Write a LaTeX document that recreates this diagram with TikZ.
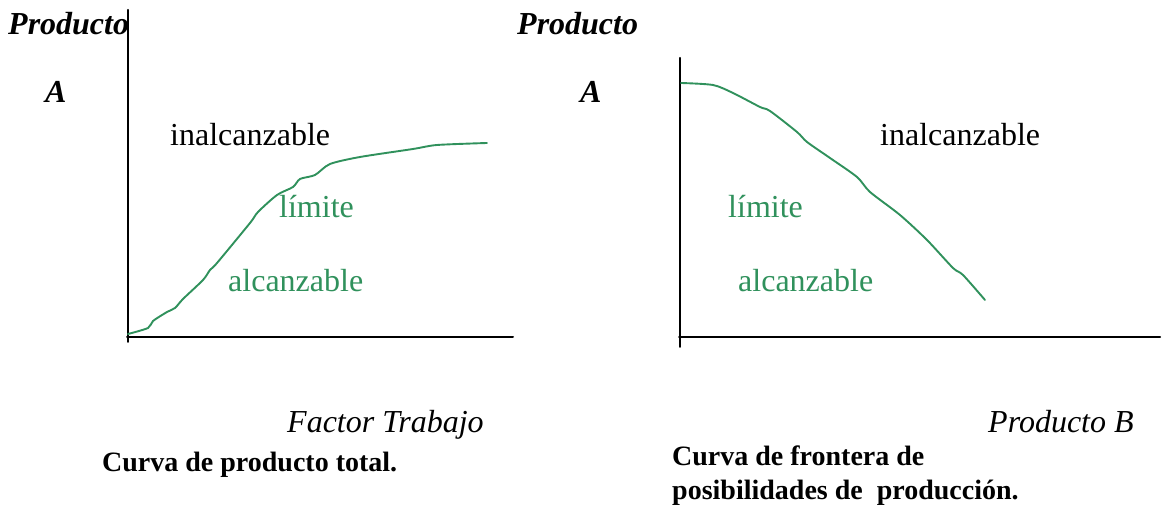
\documentclass[tikz,border=0pt]{standalone}
\usepackage{fontspec}
\setmainfont{Liberation Serif}
\usepackage{xcolor}
\usepackage{tkz-euclide}
\usetikzlibrary{calc}

\definecolor{curvegreen}{RGB}{48,145,92}
\tikzset{
  plain/.style={font=\fontsize{32}{34}\selectfont, anchor=base west, inner sep=0pt},
  zone/.style={plain, text=curvegreen},
  axislbl/.style={plain, font=\fontsize{32}{34}\selectfont\itshape},
  axisname/.style={plain, font=\fontsize{32}{34}\selectfont\bfseries\itshape},
  caption/.style={plain, font=\fontsize{28}{34}\selectfont\bfseries},
  curve/.style={curvegreen, line width=1.9pt, line cap=round, line join=round}
}

\begin{document}
\begin{tikzpicture}[x=1pt,y=1pt]
    \useasboundingbox (0,0) rectangle (1162,513);
    % axes of the total product curve
    \tkzDefPoint(128,503){Y_1}
    \tkzDefPoint(128,171){F_1}
    \tkzDefPoint(127,176){O_1}
    \tkzDefPoint(513,176){X_1}
    % axes of the frontier
    \tkzDefPoint(680,455){Y_2}
    \tkzDefPoint(680,166){F_2}
    \tkzDefPoint(679,176){O_2}
    \tkzDefPoint(1160,176){X_2}
    \tkzDrawSegments[line width=2pt](Y_1,F_1 O_1,X_1 Y_2,F_2 O_2,X_2)

    % total product curve
    \draw[curve] plot[smooth, tension=0.45] coordinates {
      (128,179) (148,185) (153,192) (167,201) (175,205) (183,214)
      (203,233) (210,243) (217,250) (250,290) (258,301) (277,318)
      (293,326) (300,334) (315,338) (330,349) (360,356) (413,364)
      (437,368) (487,370)};
    % production possibilities frontier
    \draw[curve] plot[smooth, tension=0.45] coordinates {
      (681,430) (713,428) (733,420) (760,406) (770,402) (797,381)
      (807,371) (830,355) (857,336) (870,321) (900,298) (927,273)
      (953,245) (963,238) (985,213)};

    % labels, left
    \node[axisname] (prodL) at (8,478) {Producto};
    \node[axisname] (aL) at (45,410) {A};
    \node[plain] (inalL) at (170,367) {inalcanzable};
    \node[zone] (limL) at (279,295) {límite};
    \node[zone] (alcL) at (228,221) {alcanzable};
    \node[axislbl] (factor) at (287,80) {Factor Trabajo};
    \node[caption] (capL) at (102,41) {Curva de producto total.};
    % labels, right
    \node[axisname] (prodR) at (517,478) {Producto};
    \node[axisname] (aR) at (580,410) {A};
    \node[plain] (inalR) at (880,367) {inalcanzable};
    \node[zone] (limR) at (728,295) {límite};
    \node[zone] (alcR) at (738,221) {alcanzable};
    \node[axislbl] (prodB) at (988,80) {Producto B};
    \node[caption] (capR1) at (672,47) {Curva de frontera de};
    \node[caption] (capR2) at (672,13) {posibilidades de\ \ producción.};
\end{tikzpicture}
\end{document}
